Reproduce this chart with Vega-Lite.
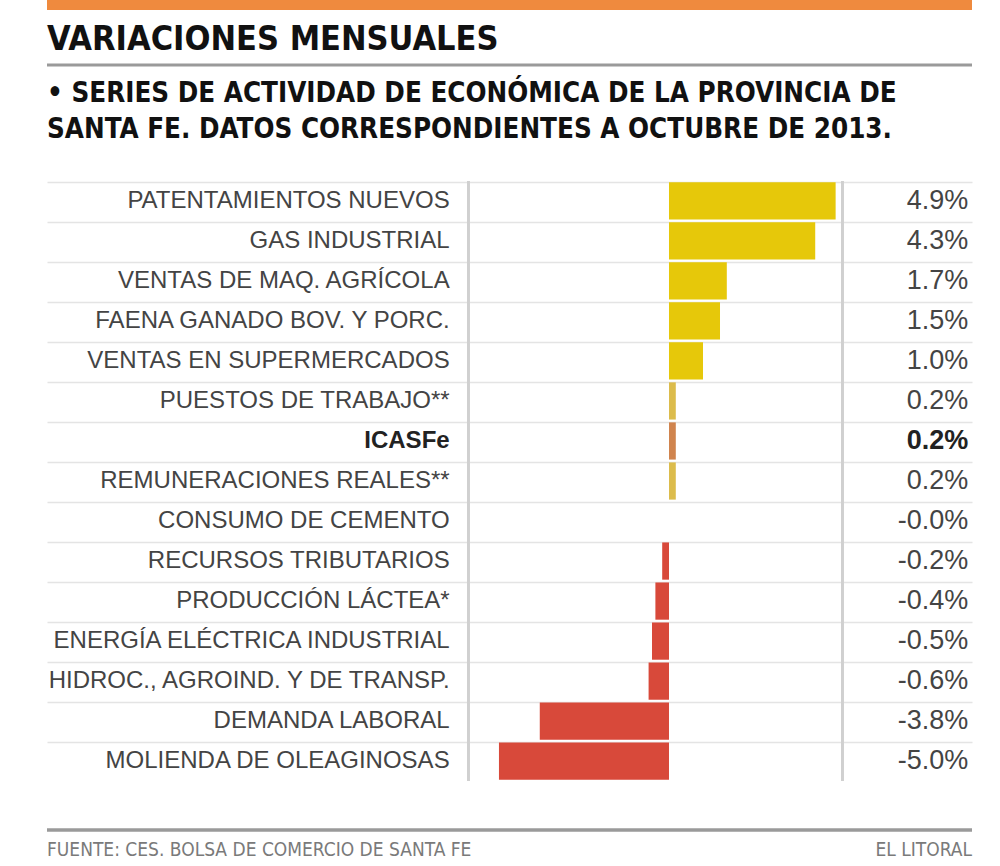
{
  "$schema": "https://vega.github.io/schema/vega-lite/v6.json",
  "padding": {"left": 45, "top": 0, "right": 30, "bottom": 0},
  "background": "#ffffff",
  "spacing": 12,
  "config": {
    "view": {"stroke": null},
    "title": {"anchor": "start", "frame": "group", "color": "#111111", "font": "Liberation Sans Narrow, DejaVu Sans Condensed, sans-serif", "fontWeight": "bold"}
  },
  "datasets": {
    "series": [
      {"serie": "PATENTAMIENTOS NUEVOS", "valor": 4.9, "texto": "4.9%", "grupo": "alza"},
      {"serie": "GAS INDUSTRIAL", "valor": 4.3, "texto": "4.3%", "grupo": "alza"},
      {"serie": "VENTAS DE MAQ. AGRÍCOLA", "valor": 1.7, "texto": "1.7%", "grupo": "alza"},
      {"serie": "FAENA GANADO BOV. Y PORC.", "valor": 1.5, "texto": "1.5%", "grupo": "alza"},
      {"serie": "VENTAS EN SUPERMERCADOS", "valor": 1.0, "texto": "1.0%", "grupo": "alza"},
      {"serie": "PUESTOS DE TRABAJO**", "valor": 0.2, "texto": "0.2%", "grupo": "leve"},
      {"serie": "ICASFe", "valor": 0.2, "texto": "0.2%", "grupo": "indice"},
      {"serie": "REMUNERACIONES REALES**", "valor": 0.2, "texto": "0.2%", "grupo": "leve"},
      {"serie": "CONSUMO DE CEMENTO", "valor": 0.0, "texto": "-0.0%", "grupo": "baja"},
      {"serie": "RECURSOS TRIBUTARIOS", "valor": -0.2, "texto": "-0.2%", "grupo": "baja"},
      {"serie": "PRODUCCIÓN LÁCTEA*", "valor": -0.4, "texto": "-0.4%", "grupo": "baja"},
      {"serie": "ENERGÍA ELÉCTRICA INDUSTRIAL", "valor": -0.5, "texto": "-0.5%", "grupo": "baja"},
      {"serie": "HIDROC., AGROIND. Y DE TRANSP.", "valor": -0.6, "texto": "-0.6%", "grupo": "baja"},
      {"serie": "DEMANDA LABORAL", "valor": -3.8, "texto": "-3.8%", "grupo": "baja"},
      {"serie": "MOLIENDA DE OLEAGINOSAS", "valor": -5.0, "texto": "-5.0%", "grupo": "baja"}
    ],
    "unidad": [{"k": 1}],
    "pie": [
      {"texto": "FUENTE: CES. BOLSA DE COMERCIO DE SANTA FE", "lado": "izq"},
      {"texto": "EL LITORAL", "lado": "der"}
    ]
  },
  "vconcat": [
    {
      "width": 925,
      "height": 10,
      "data": {"name": "unidad"},
      "mark": {"type": "rect", "color": "#ef8a3e"},
      "encoding": {
        "x": {"datum": 0, "type": "quantitative", "scale": {"domain": [0, 1]}, "axis": null},
        "x2": {"datum": 1},
        "y": {"datum": 0, "type": "quantitative", "scale": {"domain": [0, 1]}, "axis": null},
        "y2": {"datum": 1}
      }
    },
    {
      "width": 925,
      "height": 1,
      "title": {"text": "VARIACIONES MENSUALES", "fontSize": 34, "offset": 7},
      "data": {"name": "unidad"},
      "mark": {"type": "rule", "color": "#9a9a9a", "strokeWidth": 3},
      "encoding": {
        "y": {"datum": 0, "type": "quantitative", "scale": {"domain": [0, 1]}, "axis": null}
      }
    },
    {
      "width": 925,
      "height": 600,
      "title": {
        "text": ["• SERIES DE ACTIVIDAD DE ECONÓMICA DE LA PROVINCIA DE", "SANTA FE. DATOS CORRESPONDIENTES A OCTUBRE DE 2013."],
        "fontSize": 27.5,
        "lineHeight": 36,
        "offset": 37
      },
      "data": {"name": "series"},
      "layer": [
        {
          "mark": {"type": "bar"},
          "encoding": {
            "y": {
              "field": "serie",
              "type": "nominal",
              "sort": null,
              "scale": {"paddingInner": 0.07, "paddingOuter": 0.03},
              "axis": {"labels": false, "ticks": false, "domain": false, "grid": true, "gridColor": "#e4e4e4", "gridWidth": 1.5, "bandPosition": 0, "title": null}
            },
            "x": {"field": "valor", "type": "quantitative", "scale": {"domain": [-18.29, 8.91], "nice": false}, "axis": null},
            "color": {
              "field": "grupo",
              "type": "nominal",
              "scale": {"domain": ["alza", "leve", "indice", "baja"], "range": ["#e6c80a", "#dcbc4c", "#d0844e", "#d8493a"]},
              "legend": null
            }
          }
        },
        {
          "mark": {"type": "rule", "color": "#d0d0d0", "strokeWidth": 2},
          "encoding": {"x": {"datum": -5.9, "type": "quantitative"}}
        },
        {
          "mark": {"type": "rule", "color": "#d0d0d0", "strokeWidth": 2},
          "encoding": {"x": {"datum": 5.1, "type": "quantitative"}}
        },
        {
          "transform": [{"filter": "datum.serie !== 'ICASFe'"}],
          "mark": {"type": "text", "align": "right", "baseline": "middle", "fontSize": 24, "font": "Liberation Sans, Arial, sans-serif", "color": "#444444"},
          "encoding": {
            "y": {"field": "serie", "type": "nominal", "sort": null},
            "x": {"datum": -6.45, "type": "quantitative"},
            "text": {"field": "serie"}
          }
        },
        {
          "transform": [{"filter": "datum.serie === 'ICASFe'"}],
          "mark": {"type": "text", "align": "right", "baseline": "middle", "fontSize": 24, "font": "Liberation Sans, Arial, sans-serif", "color": "#222222", "fontWeight": "bold"},
          "encoding": {
            "y": {"field": "serie", "type": "nominal", "sort": null},
            "x": {"datum": -6.45, "type": "quantitative"},
            "text": {"field": "serie"}
          }
        },
        {
          "transform": [{"filter": "datum.serie !== 'ICASFe'"}],
          "mark": {"type": "text", "align": "right", "baseline": "middle", "fontSize": 27, "font": "Liberation Sans, Arial, sans-serif", "color": "#444444"},
          "encoding": {
            "y": {"field": "serie", "type": "nominal", "sort": null},
            "x": {"datum": 8.8, "type": "quantitative"},
            "text": {"field": "texto"}
          }
        },
        {
          "transform": [{"filter": "datum.serie === 'ICASFe'"}],
          "mark": {"type": "text", "align": "right", "baseline": "middle", "fontSize": 27, "font": "Liberation Sans, Arial, sans-serif", "color": "#222222", "fontWeight": "bold"},
          "encoding": {
            "y": {"field": "serie", "type": "nominal", "sort": null},
            "x": {"datum": 8.8, "type": "quantitative"},
            "text": {"field": "texto"}
          }
        }
      ]
    },
    {
      "width": 925,
      "height": 68,
      "data": {"name": "pie"},
      "layer": [
        {
          "mark": {"type": "rule", "color": "#9a9a9a", "strokeWidth": 3},
          "encoding": {
            "y": {"datum": 0.47, "type": "quantitative", "scale": {"domain": [0, 1]}, "axis": null}
          }
        },
        {
          "transform": [{"filter": "datum.lado === 'izq'"}],
          "mark": {"type": "text", "align": "left", "baseline": "middle", "fontSize": 19, "font": "Liberation Sans Narrow, DejaVu Sans Condensed, sans-serif", "color": "#7a7a7a"},
          "encoding": {
            "x": {"datum": 0, "type": "quantitative", "scale": {"domain": [0, 1]}, "axis": null},
            "y": {"datum": 0.17, "type": "quantitative"},
            "text": {"field": "texto"}
          }
        },
        {
          "transform": [{"filter": "datum.lado === 'der'"}],
          "mark": {"type": "text", "align": "right", "baseline": "middle", "fontSize": 19, "font": "Liberation Sans Narrow, DejaVu Sans Condensed, sans-serif", "color": "#7a7a7a"},
          "encoding": {
            "x": {"datum": 1, "type": "quantitative"},
            "y": {"datum": 0.17, "type": "quantitative"},
            "text": {"field": "texto"}
          }
        }
      ]
    }
  ]
}
